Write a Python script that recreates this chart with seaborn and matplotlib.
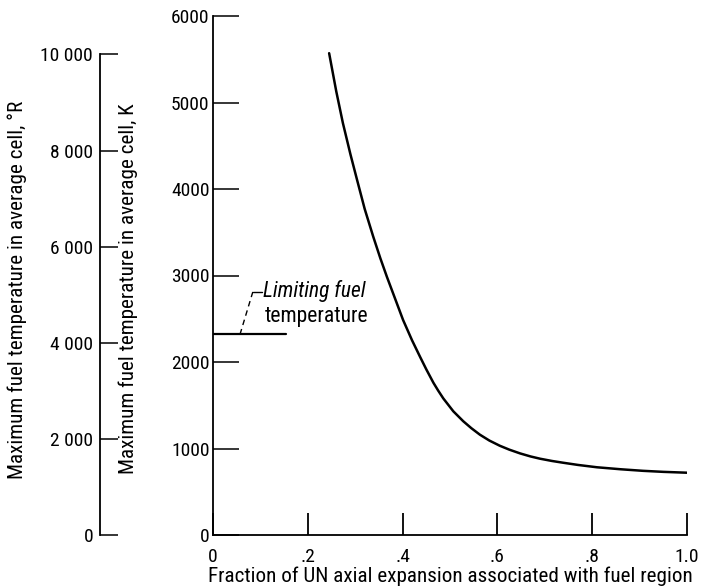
import matplotlib
matplotlib.use("Agg")
import matplotlib.pyplot as plt
import matplotlib.ticker as mticker
import pandas as pd
import seaborn as sns

# Maximum fuel temperature vs. fraction of UN axial expansion in the fuel region
fraction = [0.245, 0.26, 0.274, 0.29, 0.304, 0.32, 0.338, 0.353, 0.367, 0.385,
            0.401, 0.42, 0.437, 0.45, 0.465, 0.475, 0.486, 0.507, 0.528, 0.545,
            0.563, 0.583, 0.605, 0.625, 0.648, 0.67, 0.69, 0.715, 0.738, 0.77,
            0.81, 0.86, 0.907, 0.95, 1.0]
temp_k = [5570, 5130, 4763, 4400, 4104, 3770, 3450, 3200, 2983, 2720,
          2486, 2250, 2058, 1915, 1760, 1670, 1578, 1430, 1315, 1235,
          1160, 1092, 1032, 987, 943, 908, 882, 856, 836, 810,
          783, 760, 742, 730, 720]

limit_fraction = [0.0, 0.155]
limit_temp_k = 2320

x_ticks = [0, 0.2, 0.4, 0.6, 0.8, 1.0]
x_tick_labels = ["0", ".2", ".4", ".6", ".8", "1.0"]
k_ticks = [0, 1000, 2000, 3000, 4000, 5000, 6000]
r_ticks = [0, 2000, 4000, 6000, 8000, 10000]
r_tick_labels = ["0", "2 000", "4 000", "6 000", "8 000", "10 000"]

FS = 14          # tick labels
FS_LABEL = 15.2  # axis titles
FS_NOTE = 15.5   # callout text

sns.set_style("ticks")
plt.rcParams["font.family"] = ["Roboto Condensed", "PT Sans Narrow", "DejaVu Sans"]
plt.rcParams["axes.linewidth"] = 1.3
for key in ("text.color", "axes.labelcolor", "xtick.color", "ytick.color", "axes.edgecolor"):
    plt.rcParams[key] = "black"

W, H = 709, 587
fig = plt.figure(figsize=(W / 100, H / 100), dpi=100)

# main (Kelvin) axes
ax = fig.add_axes([213 / W, 52 / H, 474 / W, 519 / H])
df = pd.DataFrame({"fraction": fraction, "temp": temp_k})
sns.lineplot(data=df, x="fraction", y="temp", ax=ax, color="black", linewidth=1.8,
             sort=False, estimator=None)

ax.plot(limit_fraction, [limit_temp_k] * 2, color="black", linewidth=1.6)

# dashed leader to the limiting-temperature line
lead_x = [0.057, 0.084, 0.103]
lead_y = [limit_temp_k, limit_temp_k + 490, limit_temp_k + 490]
ax.plot(lead_x[:2], lead_y[:2], color="black", linewidth=1.0, linestyle=(0, (4, 3)))
ax.plot(lead_x[1:], lead_y[1:], color="black", linewidth=1.0)
ax.text(0.106, limit_temp_k + 500, "Limiting fuel", fontsize=FS_NOTE, style="italic",
        ha="left", va="center")
ax.text(0.11, limit_temp_k + 205, "temperature", fontsize=FS_NOTE, ha="left", va="center")

ax.set_xlim(0, 1.0)
ax.set_ylim(0, 6000)
ax.set_xticks(x_ticks)
ax.set_xticklabels(x_tick_labels)
ax.set_yticks(k_ticks)
ax.tick_params(axis="x", direction="in", length=16, width=1.3, pad=9, labelsize=FS)
ax.tick_params(axis="y", direction="in", length=18.5, width=1.1, pad=2.5, labelsize=FS)
for s in ("top", "right"):
    ax.spines[s].set_visible(False)
ax.set_xlabel("Fraction of UN axial expansion associated with fuel region",
              fontsize=FS_LABEL, labelpad=1.0)
ax.set_ylabel("Maximum fuel temperature in average cell, K", fontsize=FS_LABEL)
ax.yaxis.set_label_coords(128 / W, 1 - 289 / H, transform=fig.transFigure)
ax.yaxis.label.set_verticalalignment("center")

# secondary (Rankine) scale on the far left
axr = fig.add_axes([100 / W, 52 / H, 5 / W, 519 / H])
axr.patch.set_visible(False)
axr.set_ylim(0, 6000 * 1.8)
axr.set_xticks([])
axr.set_yticks(r_ticks)
axr.yaxis.set_major_formatter(mticker.FixedFormatter(r_tick_labels))
axr.tick_params(axis="y", direction="in", length=13, width=1.1, pad=5, labelsize=FS)
for s in ("top", "right", "bottom"):
    axr.spines[s].set_visible(False)
axr.spines["left"].set_bounds(0, 10000)
axr.set_ylabel("Maximum fuel temperature in average cell, \u00b0R", fontsize=FS_LABEL)
axr.yaxis.set_label_coords(17 / W, 1 - 290 / H, transform=fig.transFigure)
axr.yaxis.label.set_verticalalignment("center")

fig.savefig("out.png", dpi=100, facecolor="white")
